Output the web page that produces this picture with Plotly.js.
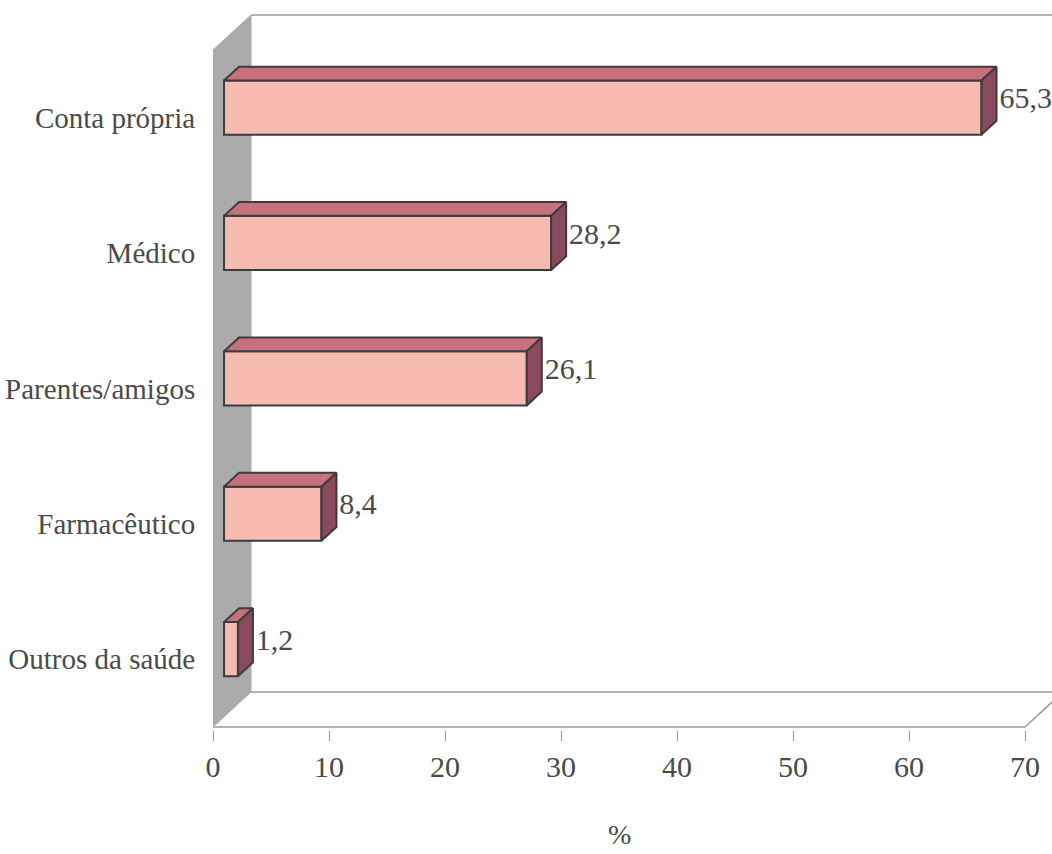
<!DOCTYPE html>
<html>
<head>
<meta charset="utf-8">
<script src="https://cdn.plot.ly/plotly-3.0.1.min.js"></script>
<style>html,body{margin:0;padding:0;background:#fff;}#chart{width:1052px;height:854px;}</style>
</head>
<body>
<div id="chart"></div>
<script>
// ---- data ----
const categories = ['Conta própria', 'Médico', 'Parentes/amigos', 'Farmacêutico', 'Outros da saúde'];
const values = [65.3, 28.2, 26.1, 8.4, 1.2];
const xTickVals = [0, 10, 20, 30, 40, 50, 60, 70];
const xTitle = '%';

// ---- 3D styling (in axis units) ----
const DX = 3.276, DY = 0.2585;   // full depth of the chart box
const F1 = 0.29, F2 = 0.685;     // depth of front and back faces of bars
const HALF = 0.2;                // half thickness of a bar
const XMAX = 70;
const n = categories.length;
const pos = categories.map((c, i) => n - 1 - i);

const FONT = 'Liberation Serif, Times New Roman, serif';
const TXT = '#4a4a4a';
const FRONT = '#f8bbb2', TOP = '#c8717e', SIDE = '#8a4a5d', EDGE = '#3c3c3c';
const WALL = '#ababab', GRID = '#9a9a9a';

const traces = [];

// front faces: real bars
traces.push({
  type: 'bar', orientation: 'h',
  x: values, y: pos.map(p => p + F1 * DY), base: values.map(() => F1 * DX),
  width: 2 * HALF,
  marker: {color: FRONT, line: {color: EDGE, width: 2}},
  hoverinfo: 'skip'
});

// top faces and side faces
const tx = [], ty = [], sx = [], sy = [];
values.forEach((v, i) => {
  const p = pos[i];
  const x0 = F1 * DX, x1 = v + F1 * DX, bx0 = F2 * DX, bx1 = v + F2 * DX;
  const yt = p + F1 * DY + HALF, yb = p + F1 * DY - HALF;
  const d = (F2 - F1) * DY;
  tx.push(x0, x1, bx1, bx0, x0, null);
  ty.push(yt, yt, yt + d, yt + d, yt, null);
  sx.push(x1, bx1, bx1, x1, x1, null);
  sy.push(yb, yb + d, yt + d, yt, yb, null);
});
traces.push({type: 'scatter', mode: 'lines', fill: 'toself', fillcolor: TOP,
  line: {color: EDGE, width: 2}, x: tx, y: ty, hoverinfo: 'skip'});
traces.push({type: 'scatter', mode: 'lines', fill: 'toself', fillcolor: SIDE,
  line: {color: EDGE, width: 2}, x: sx, y: sy, hoverinfo: 'skip'});

// value labels
traces.push({
  type: 'scatter', mode: 'text', cliponaxis: false,
  x: values.map(v => v + F2 * DX + 0.25), y: pos.map(p => p + (F1 + F2) / 2 * DY),
  text: values.map(v => v.toFixed(1).replace('.', ',')),
  textposition: 'middle right',
  textfont: {family: FONT, size: 30, color: TXT},
  hoverinfo: 'skip'
});

const yTop = n - 0.5 + 40 / 135.4;
const plotH = 854 - 10 - 124;
const yBot = yTop - plotH / 135.4;

// chart box (wall and floor edges), drawn below the bars
const shapes = [
  {type: 'path', xref: 'x', yref: 'y', layer: 'below',
   path: `M 0 ${-0.5} L 0 ${n - 0.5} L ${DX} ${n - 0.5 + DY} L ${DX} ${-0.5 + DY} Z`,
   fillcolor: WALL, line: {color: WALL, width: 1}},
  {type: 'line', xref: 'x', yref: 'y', layer: 'below', x0: DX, x1: XMAX + DX + 5,
   y0: n - 0.5 + DY, y1: n - 0.5 + DY, line: {color: GRID, width: 1.5}},
  {type: 'line', xref: 'x', yref: 'y', layer: 'below', x0: DX, x1: XMAX + DX,
   y0: -0.5 + DY, y1: -0.5 + DY, line: {color: GRID, width: 1.5}},
  {type: 'line', xref: 'x', yref: 'y', layer: 'below', x0: 0, x1: XMAX,
   y0: -0.5, y1: -0.5, line: {color: GRID, width: 1.5}},
  {type: 'line', xref: 'x', yref: 'y', layer: 'below', x0: XMAX, x1: XMAX + DX,
   y0: -0.5, y1: -0.5 + DY, line: {color: GRID, width: 1.5}}
];

const layout = {
  width: 1052, height: 854,
  margin: {l: 213, r: 0, t: 10, b: 124, pad: 0},
  paper_bgcolor: '#fff', plot_bgcolor: '#fff',
  showlegend: false, hovermode: false,
  font: {family: FONT, size: 30, color: TXT},
  barmode: 'overlay',
  shapes: shapes,
  xaxis: {
    range: [0, 839 / 11.6], tickvals: xTickVals, ticktext: xTickVals.map(String),
    ticks: 'outside', ticklen: 10, tickcolor: GRID, tickwidth: 1,
    showgrid: false, zeroline: false, showline: false,
    tickfont: {family: FONT, size: 30, color: TXT}, fixedrange: true
  },
  yaxis: {
    range: [yBot, yTop], tickvals: pos, ticktext: categories,
    ticks: 'outside', ticklen: 11, tickcolor: 'rgba(0,0,0,0)',
    showgrid: false, zeroline: false, showline: false,
    tickfont: {family: FONT, size: 29, color: TXT}, fixedrange: true
  },
  yaxis2: {
    overlaying: 'y', anchor: 'x', side: 'left',
    range: [yBot, yTop], tickvals: [-0.5, 0.5, 1.5, 2.5, 3.5, 4.5],
    ticks: 'outside', ticklen: 8, tickcolor: GRID, tickwidth: 1,
    showticklabels: false, showgrid: false, zeroline: false, showline: false, fixedrange: true
  },
  annotations: [{
    text: xTitle, xref: 'x', x: XMAX / 2, yref: 'paper', y: 0, yanchor: 'middle',
    yshift: -104, showarrow: false, font: {family: FONT, size: 28, color: TXT}
  }]
};

Plotly.newPlot('chart', traces, layout, {displayModeBar: false, staticPlot: true});
</script>
</body>
</html>
